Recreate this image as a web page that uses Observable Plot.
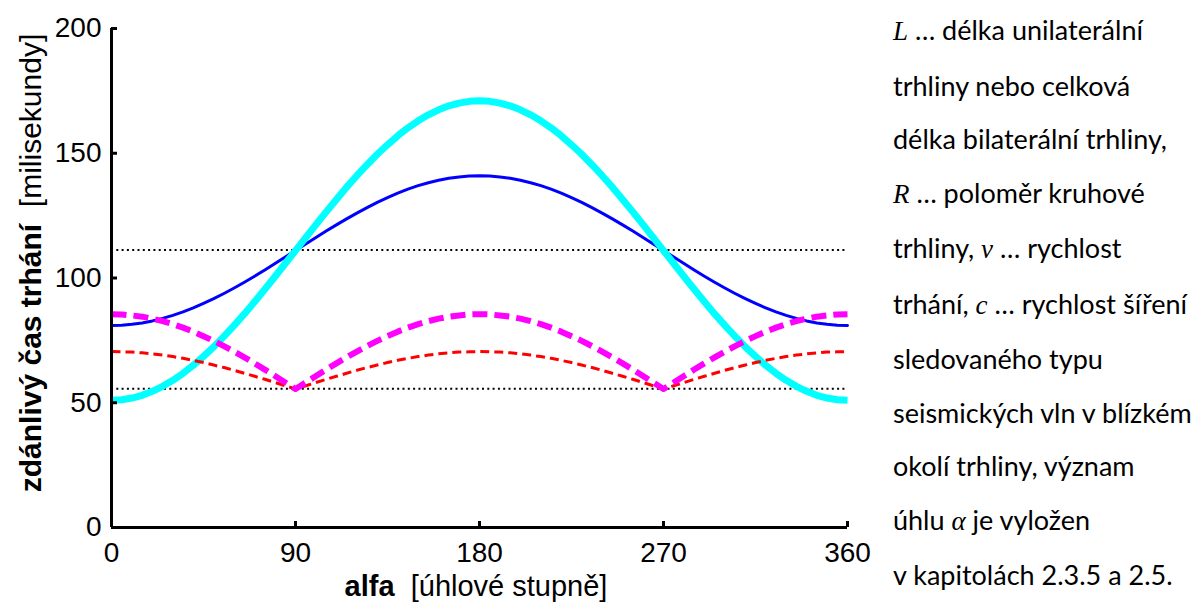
<!DOCTYPE html>
<html>
<head>
<meta charset="utf-8">
<script src="https://cdn.jsdelivr.net/npm/d3@7"></script>
<script src="https://cdn.jsdelivr.net/npm/@observablehq/plot@0.6"></script>
<style>
  html, body { margin: 0; padding: 0; background: #fff; }
  #wrap { position: relative; width: 1197px; height: 603px; overflow: hidden; }
  #chart { position: absolute; left: 0; top: 0; }
  #note { position: absolute; left: 893px; top: 3px; font-family: Lato, "Open Sans", sans-serif; font-size: 27px; line-height: 53.5px; color: #000; white-space: nowrap; }
  #note i { font-family: "Liberation Serif", "DejaVu Serif", serif; font-style: italic; font-size: 27px; }
</style>
</head>
<body>
<div id="wrap">
  <div id="chart"></div>
  <div id="note">
    <i>L</i> … délka unilaterální<br>
    trhliny nebo celková<br>
    délka bilaterální trhliny,<br>
    <i>R</i> … poloměr kruhové<br>
    trhliny, <i>v</i> … rychlost<br>
    trhání, <i>c</i> … rychlost šíření<br>
    sledovaného typu<br>
    seismických vln v blízkém<br>
    okolí trhliny, význam<br>
    úhlu <i>α</i> je vyložen<br>
    v kapitolách 2.3.5 a 2.5.
  </div>
</div>
<script>
// angle alfa [deg]
const alpha = [0,5,10,15,20,25,30,35,40,45,50,55,60,65,70,75,80,85,90,95,100,105,110,115,120,125,130,135,140,145,150,155,160,165,170,175,180,
  185,190,195,200,205,210,215,220,225,230,235,240,245,250,255,260,265,270,275,280,285,290,295,300,305,310,315,320,325,330,335,340,345,350,355,360];

// cyan thick curve
const cyanVals = [51.0,51.2,51.9,53.0,54.6,56.6,59.0,61.8,65.0,68.6,72.4,76.6,81.0,85.6,90.5,95.5,100.6,105.8,111.0,116.2,121.4,126.5,131.5,136.4,141.0,145.4,149.6,153.4,157.0,160.2,163.0,165.4,167.4,169.0,170.1,170.8,171.0,
  170.8,170.1,169.0,167.4,165.4,163.0,160.2,157.0,153.4,149.6,145.4,141.0,136.4,131.5,126.5,121.4,116.2,111.0,105.8,100.6,95.5,90.5,85.6,81.0,76.6,72.4,68.6,65.0,61.8,59.0,56.6,54.6,53.0,51.9,51.2,51.0];

// blue thin curve
const blueVals = [81.0,81.1,81.5,82.0,82.8,83.8,85.0,86.4,88.0,89.8,91.7,93.8,96.0,98.3,100.7,103.2,105.8,108.4,111.0,113.6,116.2,118.8,121.3,123.7,126.0,128.2,130.3,132.2,134.0,135.6,137.0,138.2,139.2,140.0,140.5,140.9,141.0,
  140.9,140.5,140.0,139.2,138.2,137.0,135.6,134.0,132.2,130.3,128.2,126.0,123.7,121.3,118.8,116.2,113.6,111.0,108.4,105.8,103.2,100.7,98.3,96.0,93.8,91.7,89.8,88.0,86.4,85.0,83.8,82.8,82.0,81.5,81.1,81.0];

// magenta thick dashed curve
const magentaVals = [85.5,85.4,85.0,84.5,83.7,82.7,81.5,80.1,78.5,76.7,74.8,72.7,70.5,68.2,65.8,63.3,60.7,58.1,55.5,58.1,60.7,63.3,65.8,68.2,70.5,72.7,74.8,76.7,78.5,80.1,81.5,82.7,83.7,84.5,85.0,85.4,85.5,
  85.4,85.0,84.5,83.7,82.7,81.5,80.1,78.5,76.7,74.8,72.7,70.5,68.2,65.8,63.3,60.7,58.1,55.5,58.1,60.7,63.3,65.8,68.2,70.5,72.7,74.8,76.7,78.5,80.1,81.5,82.7,83.7,84.5,85.0,85.4,85.5];

// red thin dashed curve
const redVals = [70.5,70.4,70.3,70.0,69.6,69.1,68.5,67.8,67.0,66.1,65.1,64.1,63.0,61.8,60.6,59.4,58.1,56.8,55.5,56.8,58.1,59.4,60.6,61.8,63.0,64.1,65.1,66.1,67.0,67.8,68.5,69.1,69.6,70.0,70.3,70.4,70.5,
  70.4,70.3,70.0,69.6,69.1,68.5,67.8,67.0,66.1,65.1,64.1,63.0,61.8,60.6,59.4,58.1,56.8,55.5,56.8,58.1,59.4,60.6,61.8,63.0,64.1,65.1,66.1,67.0,67.8,68.5,69.1,69.6,70.0,70.3,70.4,70.5];

// dotted reference levels
const refLevels = [111.2, 55.6];

const xTicks = [0, 90, 180, 270, 360];
const yTicks = [0, 50, 100, 150, 200];

const chart = Plot.plot({
  width: 860,
  height: 603,
  marginLeft: 111,
  marginRight: 13,
  marginTop: 28,
  marginBottom: 76,
  x: {domain: [0, 360]},
  y: {domain: [0, 200]},
  style: {fontFamily: "'Liberation Sans', Arial, sans-serif", fontSize: "28px", color: "#000", background: "#fff", overflow: "visible"},
  marks: [
    Plot.ruleY(refLevels, {stroke: "#000", strokeWidth: 2, strokeDasharray: "2,3.3"}),
    Plot.line(alpha, {x: d => d, y: blueVals, stroke: "#0000ff", strokeWidth: 3, curve: "linear"}),
    Plot.line(alpha, {x: d => d, y: cyanVals, stroke: "#00ffff", strokeWidth: 7, curve: "linear", strokeLinecap: "butt"}),
    Plot.line(alpha, {x: d => d, y: redVals, stroke: "#ff0000", strokeWidth: 3, strokeDasharray: "9,5", strokeLinecap: "butt"}),
    Plot.line(alpha, {x: d => d, y: magentaVals, stroke: "#ff00ff", strokeWidth: 6, strokeDasharray: "15,7", strokeLinecap: "butt"}),
    Plot.ruleX([0], {stroke: "#000", strokeWidth: 3}),
    Plot.ruleY([0], {stroke: "#000", strokeWidth: 3}),
    Plot.axisX({ticks: xTicks, tickSize: -6, tickPadding: 21, strokeWidth: 3, label: null}),
    Plot.axisY({ticks: yTicks, tickSize: -6, tickPadding: 16, strokeWidth: 3, label: null})
  ]
});
document.getElementById("chart").appendChild(chart);

const svg = d3.select(chart);
const yl = svg.append("text")
  .attr("transform", "translate(41,263) rotate(-90)")
  .attr("text-anchor", "middle")
  .style("font-size", "30px")
  .attr("fill", "#000");
yl.append("tspan").attr("font-weight", "bold").text("zdánlivý čas trhání");
yl.append("tspan").text("\u00a0 [milisekundy]");

const xl = svg.append("text")
  .attr("x", 476)
  .attr("y", 596)
  .attr("text-anchor", "middle")
  .style("font-size", "29px")
  .attr("fill", "#000");
xl.append("tspan").attr("font-weight", "bold").text("alfa");
xl.append("tspan").text("\u00a0 [úhlové stupně]");
</script>
</body>
</html>
